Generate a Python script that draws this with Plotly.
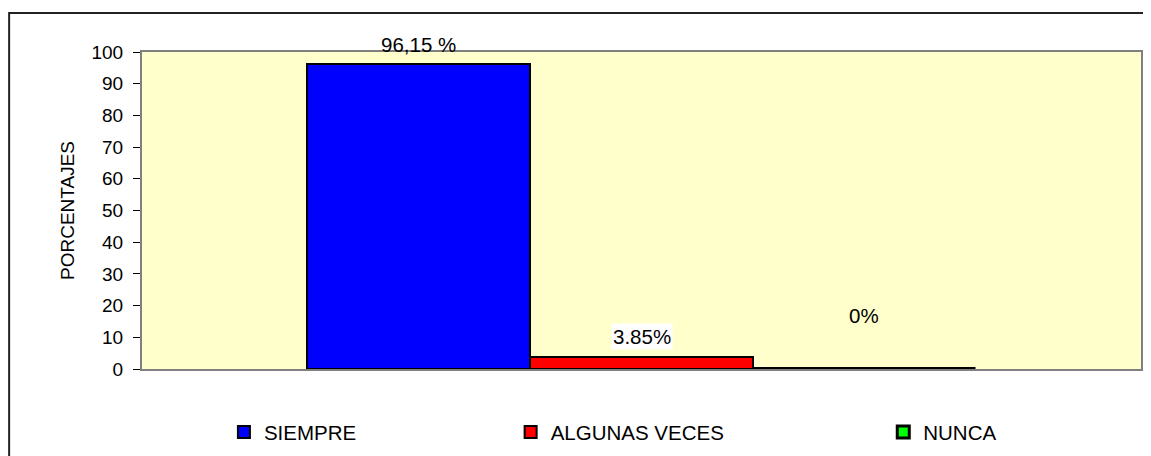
import plotly.graph_objects as go

categories = ["SIEMPRE", "ALGUNAS VECES", "NUNCA"]
values = [96.15, 3.85, 0]
labels = ["96,15 %", "3.85%", "0%"]
colors = ["#0000FF", "#FF0000", "#00FF00"]
line_widths = [2, 2, 3]
label_shift = [20, 20, 54]
label_bg = ["rgba(0,0,0,0)", "#FFFFFF", "rgba(0,0,0,0)"]
legend_names = ["legend", "legend2", "legend3"]
legend_x = [0.082, 0.369, 0.742]

FONT = "Liberation Sans, Arial, sans-serif"

fig = go.Figure()
for i, cat in enumerate(categories):
    fig.add_trace(go.Bar(
        x=[cat], y=[values[i]], name=cat,
        marker=dict(color=colors[i], line=dict(color="#000000", width=line_widths[i])),
        legend=legend_names[i], showlegend=True,
    ))
    fig.add_annotation(
        x=cat, y=values[i], xref="x", yref="y", text=labels[i],
        showarrow=False, yshift=label_shift[i], yanchor="middle",
        font=dict(family=FONT, size=20.5, color="#000000"),
        bgcolor=label_bg[i], borderpad=1,
    )

legend_common = dict(
    orientation="h", y=-0.199, yanchor="middle", xanchor="left",
    font=dict(family=FONT, size=20.5, color="#000000"),
    bgcolor="rgba(0,0,0,0)", borderwidth=0,
)
fig.update_layout(
    legend=dict(x=legend_x[0], **legend_common),
    legend2=dict(x=legend_x[1], **legend_common),
    legend3=dict(x=legend_x[2], **legend_common),
)

fig.update_layout(
    width=1151, height=456,
    margin=dict(l=134, r=18, t=44, b=95, autoexpand=False),
    paper_bgcolor="#FFFFFF",
    plot_bgcolor="#FFFFCC",
    barmode="overlay",
    bargap=0,
    font=dict(family=FONT, size=19, color="#000000"),
    xaxis=dict(
        type="category", range=[-1.24, 3.24],
        showticklabels=False, ticks="",
        showline=True, linecolor="#808080", linewidth=2, mirror=True,
        showgrid=False, zeroline=False, fixedrange=True,
    ),
    yaxis=dict(
        range=[0, 100], dtick=10, tick0=0,
        ticks="outside", ticklen=7, tickcolor="#000000", tickwidth=1,
        ticklabelstandoff=6,
        tickfont=dict(family=FONT, size=19, color="#000000"),
        showline=True, linecolor="#808080", linewidth=2, mirror=True,
        showgrid=False, zeroline=False, automargin=False,
        title=dict(text="PORCENTAJES", standoff=12,
                   font=dict(family=FONT, size=19, color="#000000")),
    ),
)

# outer chart-area border (extends past the right and bottom edges)
fig.add_shape(type="rect", xref="paper", yref="paper",
              x0=-0.133, x1=1.05, y0=-0.4, y1=1.123,
              line=dict(color="#222222", width=2), fillcolor="rgba(0,0,0,0)",
              layer="below")

fig.write_html("out.html")
